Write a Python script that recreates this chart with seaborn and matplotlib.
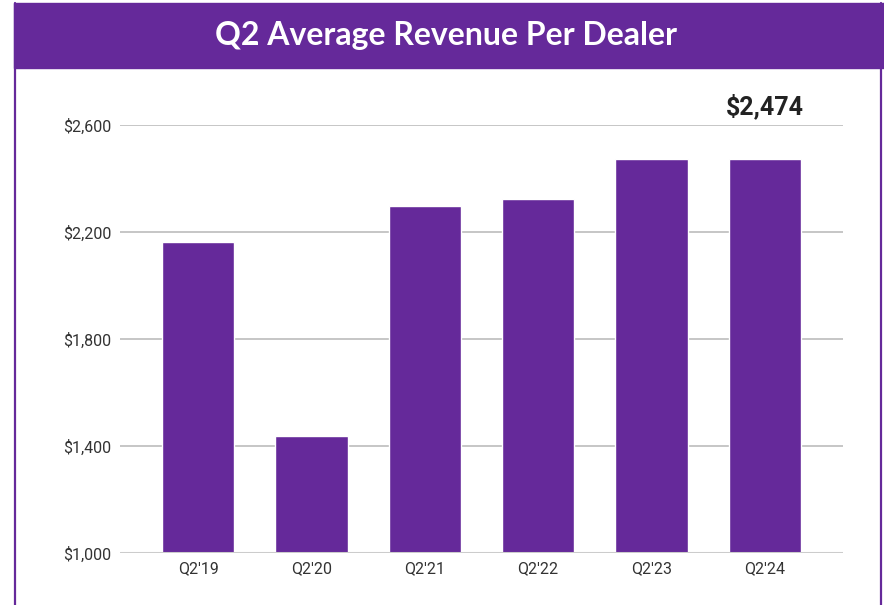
import matplotlib
matplotlib.use("Agg")
import matplotlib.pyplot as plt
import seaborn as sns
import pandas as pd
from matplotlib.patches import Rectangle
from matplotlib.lines import Line2D

quarters = ["Q2'19", "Q2'20", "Q2'21", "Q2'22", "Q2'23", "Q2'24"]
revenue = [2163, 1437, 2297, 2323, 2473, 2474]
y_ticks = [1000, 1400, 1800, 2200, 2600]
title = "Q2 Average Revenue Per Dealer"

PURPLE = "#65299a"
W, H = 884, 605

sns.set_theme(style="white")
plt.rcParams['font.family'] = ['Roboto', 'DejaVu Sans']

fig = plt.figure(figsize=(W / 100, H / 100), dpi=100)
fig.patch.set_facecolor("white")

# header band and frame
fig.patches.append(Rectangle((14 / W, 1 - 68 / H), 1 - 14 / W, (68 - 3) / H,
                             transform=fig.transFigure, color=PURPLE, zorder=0))
fig.lines.append(Line2D([15 / W, 15 / W], [0, 1 - 3 / H], transform=fig.transFigure,
                        color=PURPLE, lw=1.6))
fig.lines.append(Line2D([881 / W, 881 / W], [0, 1 - 3 / H], transform=fig.transFigure,
                        color=PURPLE, lw=1.6))
fig.text((14 + W) / 2 / W - 0.003, 1 - 36 / H, title, color="white", fontsize=23,
         fontweight="bold", family=["Lato", "DejaVu Sans"], ha="center", va="center")

ax = fig.add_axes([120 / W, 1 - 553 / H, (843 - 120) / W, (553 - 125) / H])
df = pd.DataFrame({"quarter": quarters, "revenue": revenue})
sns.barplot(data=df, x="quarter", y="revenue", color=PURPLE, saturation=1,
            width=0.64, ax=ax, zorder=3)

ax.set_ylim(y_ticks[0], y_ticks[-1])
ax.set_xlim(-0.69, len(quarters) - 1 + 0.69)
ax.set_yticks(y_ticks)
ax.set_yticklabels([f"${v:,}" for v in y_ticks])
ax.set_xlabel("")
ax.set_ylabel("")
for sp in ax.spines.values():
    sp.set_visible(False)
ax.grid(False)
for v in y_ticks[1:]:
    ax.axhline(v, color="#b7b7b7", lw=1.1, zorder=1)
ax.axhline(y_ticks[0], color="#cccccc", lw=2.2, zorder=4)
ax.tick_params(axis="both", length=0, labelsize=11.5, colors="#333333")
ax.tick_params(axis="y", pad=6)
ax.tick_params(axis="x", pad=6)

ax.annotate(f"${revenue[-1]:,}", xy=(len(quarters) - 1, y_ticks[-1]), xytext=(0, 4),
            textcoords="offset points", ha="center", va="bottom", fontsize=18,
            fontweight="bold", color="#222222", annotation_clip=False)

fig.savefig("out.png", dpi=100)
